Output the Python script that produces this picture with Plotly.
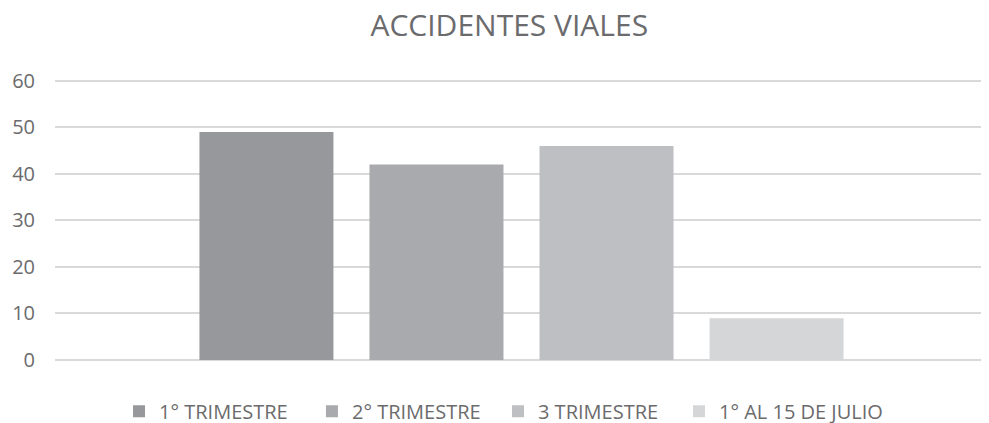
import plotly.graph_objects as go

# data
series = ["1° TRIMESTRE", "2° TRIMESTRE", "3 TRIMESTRE", "1° AL 15 DE JULIO"]
values = [49, 42, 46, 9]
colors = ["#97989b", "#a9aaad", "#bebfc2", "#d5d6d8"]
y_ticks = [0, 10, 20, 30, 40, 50, 60]

# one legend per series so the entries sit where the reference has them
legend_ids = ["legend", "legend2", "legend3", "legend4"]
legend_x = [0.0686, 0.2754, 0.4748, 0.6688]

fig = go.Figure()

for name, val, col, lg in zip(series, values, colors, legend_ids):
    fig.add_trace(go.Bar(x=[""], y=[val], name=name, legend=lg, showlegend=True,
                         marker=dict(color=col, line=dict(width=0))))

# page body has an 8px margin, so the figure is shifted by 8px
fig.update_layout(
    width=981, height=415,
    margin=dict(l=47, r=1, t=71, b=63, autoexpand=False),
    paper_bgcolor="white", plot_bgcolor="white",
    showlegend=True,
    barmode="group", bargap=0.271, bargroupgap=0.212,
    title=dict(text="ACCIDENTES VIALES", x=0.511, xanchor="center", y=0.958, yanchor="middle",
               font=dict(family="Open Sans", size=30, color="#6b6b6d")),
    font=dict(family="Open Sans", color="#6b6b6d"),
)
for lg, lx in zip(legend_ids, legend_x):
    fig.update_layout({lg: dict(orientation="h", x=lx, xanchor="left", y=-0.182, yanchor="middle",
                                font=dict(size=20, color="#6b6b6d"), bgcolor="rgba(0,0,0,0)")})

fig.update_xaxes(showticklabels=False, showline=False, showgrid=False, zeroline=False, automargin=False)
fig.update_yaxes(range=[0, 60.4], tickvals=y_ticks, showgrid=True, gridcolor="#d9d9d9", gridwidth=1.5,
                 zeroline=True, zerolinecolor="#d9d9d9", zerolinewidth=1.5, automargin=False,
                 tickfont=dict(size=20, color="#6b6b6d"), ticks="", ticklabelstandoff=19)

fig.write_html("out.html")
